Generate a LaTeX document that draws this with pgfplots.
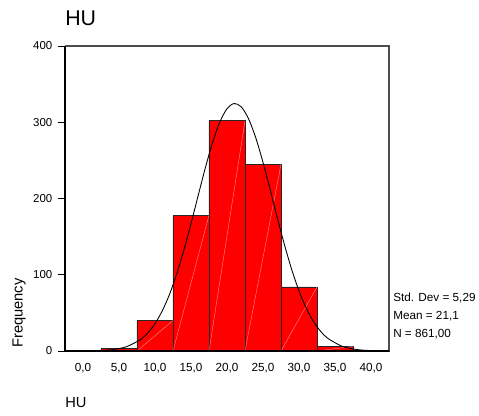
\documentclass[border=0pt]{standalone}
\usepackage{fontspec}
\setmainfont{Liberation Sans}
\usepackage{pgfplots}
\pgfplotsset{compat=1.18}

% histogram bins, first x of each interval; last row closes the interval
\pgfplotstableread{
x     n
2.5   3
7.5   40
12.5  178
17.5  302
22.5  245
27.5  84
32.5  6
37.5  1
42.5  1
}\bins

\begin{document}
\begin{tikzpicture}[x=0.75pt,y=0.75pt]
\useasboundingbox (0,0) rectangle (479,415);
\begin{axis}[
  at={(62.25pt,48pt)}, anchor=origin,
  scale only axis,
  width=243pt, height=228.75pt,
  xmin=-2.5, xmax=42.5,
  ymin=0, ymax=400,
  axis line style={draw=none},
  xtick={0,5,10,15,20,25,30,35,40},
  xticklabels={{0,0},{5,0},{10,0},{15,0},{20,0},{25,0},{30,0},{35,0},{40,0}},
  ytick={0,100,200,300,400},
  ytick pos=left,
  xtick pos=bottom,
  xtick style={draw=none},
  ytick style={black, line width=0.6pt},
  tick align=outside,
  major tick length=5pt,
  xticklabel style={font=\fontsize{8.8}{10}\selectfont, yshift=-1pt},
  yticklabel style={font=\fontsize{8.6}{10}\selectfont, xshift=-1pt},
  /pgf/number format/assume math mode=true,
  unbounded coords=jump,
  clip=false,
]
\addplot[ybar interval, fill=red, draw=black!85, line width=0.5pt] table[x=x, y=n] {\bins};
% faint seams across each bar, as in the original
\addplot[white, opacity=0.55, line width=0.3pt] coordinates {
 (7.5,0) (12.5,40) (12.5,nan)
 (12.5,0) (17.5,178) (17.5,nan)
 (17.5,0) (22.5,302) (22.5,nan)
 (22.5,0) (27.5,245) (27.5,nan)
 (27.5,0) (32.5,84) (32.5,nan)
 (32.5,0) (37.5,6)
};
\addplot[black, line width=0.65pt, smooth] coordinates {
 (0,0.11) (2,0.48) (4,1.75) (6,5.53) (8,15.1) (9,23.7) (10,35.9) (11,52.5)
 (12,73.9) (13,100.6) (14,131.9) (15,167.0) (16,204.0) (17,240.5) (18,273.5)
 (19,300.1) (20,317.8) (21,324.6) (22,320.0) (23,304.4) (24,279.4) (25,247.4)
 (26,211.4) (27,174.3) (28,138.7) (29,106.5) (30,78.9) (31,56.4) (32,38.9)
 (33,25.9) (34,16.6) (36,6.14) (38,1.97) (40,0.55) (42,0.13)
};
\draw[black!70, line width=0.8pt] (rel axis cs:0,1) -- (rel axis cs:1,1) -- (rel axis cs:1,0);
\draw[black, line width=1.1pt] (rel axis cs:0,1) -- (rel axis cs:0,0) -- (rel axis cs:1,0);
\end{axis}
\node[anchor=base west, inner sep=0pt, font=\fontsize{16}{18}\selectfont] at (65,389) {HU};
\node[anchor=base west, inner sep=0pt, font=\fontsize{11}{13}\selectfont] at (65,8) {HU};
\node[anchor=base, rotate=90, inner sep=0pt, font=\fontsize{11}{13}\selectfont] at (22.7,102) {Frequency};
\node[anchor=west, inner sep=0pt, font=\fontsize{8.8}{10}\selectfont] at (393,117) {Std. Dev = 5,29};
\node[anchor=west, inner sep=0pt, font=\fontsize{8.8}{10}\selectfont] at (393,99) {Mean = 21,1};
\node[anchor=west, inner sep=0pt, font=\fontsize{8.8}{10}\selectfont] at (393,81) {N = 861,00};
\end{tikzpicture}
\end{document}
